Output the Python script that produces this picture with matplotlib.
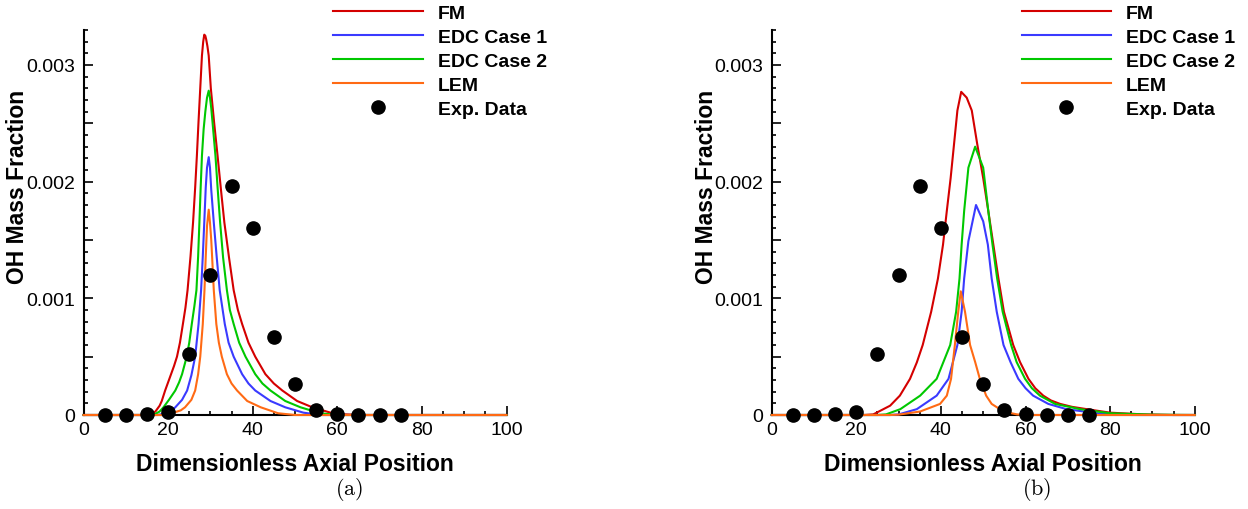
import numpy as np
import matplotlib
matplotlib.use("Agg")
import matplotlib.pyplot as plt
from matplotlib.ticker import MultipleLocator, FuncFormatter

plt.rcParams["font.family"] = ["Liberation Sans", "DejaVu Sans"]
plt.rcParams["mathtext.fontset"] = "cm"

# ---- Experimental OH mass fraction (units of 1e-3) ----
exp_x = [5, 10, 15, 20, 25, 30, 35, 40, 45, 50, 55, 60, 65, 70, 75]
exp_y = [0.0, 0.0, 0.012, 0.03, 0.52, 1.20, 1.96, 1.60, 0.67, 0.265, 0.045, 0.01, 0.0, 0.0, 0.0]

# ---- Panel (a): model profiles (x, OH in units of 1e-3) ----
a_fm_x = [0, 14, 15, 16, 17, 18, 18.5, 19.3, 20.0, 20.7, 21.4, 22.1, 22.8, 23.5, 24.1, 24.6, 25.3,
          25.9, 26.4, 26.8, 27.2, 27.6, 28.0, 28.3, 28.55, 28.8, 29.0, 29.3, 29.6, 30.1, 30.9, 31.7,
          32.5, 33.3, 34.4, 35.5, 36.5, 37.5, 39.0, 40.6, 43.0, 45.0, 47.0, 50.5, 54.1, 58.4, 62, 66, 100]
a_fm_y = [0, 0, 0.003, 0.01, 0.03, 0.08, 0.12, 0.21, 0.28, 0.35, 0.42, 0.50, 0.62, 0.78, 0.92, 1.07, 1.36,
          1.65, 1.95, 2.22, 2.52, 2.80, 3.08, 3.20, 3.26, 3.25, 3.22, 3.16, 3.08, 2.80, 2.50, 2.22,
          1.93, 1.65, 1.35, 1.07, 0.90, 0.78, 0.62, 0.50, 0.35, 0.27, 0.21, 0.12, 0.066, 0.02, 0.005, 0, 0]

a_edc1_x = [0, 17.5, 19, 20.5, 21.7, 23.3, 24.5, 25.5, 26.4, 27.2, 27.8, 28.2, 28.55, 28.9, 29.2,
            29.6, 29.9, 30.2, 30.8, 31.5, 32.2, 33.4, 34.3, 35.5, 37.5, 39.0, 40.6, 44.2, 47.7, 52, 56, 100]
a_edc1_y = [0, 0, 0.01, 0.03, 0.066, 0.13, 0.21, 0.34, 0.50, 0.78, 1.07, 1.36, 1.65, 1.95, 2.12,
            2.21, 2.12, 1.93, 1.65, 1.35, 1.07, 0.78, 0.62, 0.50, 0.35, 0.27, 0.21, 0.12, 0.066, 0.02, 0, 0]

a_edc2_x = [0, 16, 17, 18, 18.9, 20.2, 21.7, 22.6, 23.3, 24.4, 25.0, 25.6, 26.2, 26.7, 27.1, 27.4,
            27.7, 28.0, 28.4, 28.8, 29.2, 29.6, 29.9, 30.2, 30.5, 31.2, 31.7, 32.3, 33.0, 33.9, 34.6,
            35.5, 36.8, 38.3, 40.6, 42.3, 44.2, 47.7, 51.3, 56, 60, 100]
a_edc2_y = [0, 0, 0.01, 0.03, 0.066, 0.13, 0.21, 0.28, 0.35, 0.50, 0.62, 0.78, 0.93, 1.07, 1.36, 1.65,
            1.95, 2.22, 2.45, 2.60, 2.72, 2.78, 2.72, 2.63, 2.51, 2.22, 1.95, 1.65, 1.35, 1.07, 0.90,
            0.78, 0.62, 0.50, 0.35, 0.27, 0.21, 0.12, 0.066, 0.015, 0, 0]

a_lem_x = [0, 19, 21.3, 23.0, 24.0, 25.5, 26.4, 27.1, 27.6, 28.2, 28.6, 28.9, 29.2, 29.6, 29.9,
           30.2, 30.4, 30.8, 31.4, 32.0, 32.7, 33.9, 35.0, 36.3, 38.7, 41.9, 46, 50, 100]
a_lem_y = [0, 0, 0.02, 0.04, 0.066, 0.13, 0.21, 0.35, 0.50, 0.78, 1.07, 1.36, 1.62, 1.76, 1.65,
           1.50, 1.36, 1.07, 0.78, 0.62, 0.50, 0.35, 0.27, 0.21, 0.12, 0.066, 0.015, 0, 0]

# ---- Panel (b): model profiles (x, OH in units of 1e-3) ----
b_fm_x = [0, 22, 24, 26.4, 28.0, 30.3, 32.7, 34.3, 35.7, 37.7, 39.3, 40.5, 41.4, 42.3, 43.1, 43.9, 44.8,
          46.1, 47.3, 48.6, 50.0, 51.2, 52.4, 53.6, 54.9, 57.1, 58.7, 60.7, 62.3, 64.2, 66.0, 68.2, 71.0,
          74.5, 80, 88, 95, 100]
b_fm_y = [0, 0, 0.005, 0.05, 0.08, 0.166, 0.31, 0.45, 0.60, 0.885, 1.17, 1.46, 1.75, 2.03, 2.32, 2.61, 2.77,
          2.72, 2.61, 2.32, 2.03, 1.75, 1.46, 1.17, 0.885, 0.60, 0.454, 0.31, 0.23, 0.166, 0.125, 0.095, 0.07,
          0.05, 0.02, 0.005, 0, 0]

b_edc1_x = [0, 28, 30, 34.3, 39.0, 41.8, 43.9, 44.9, 45.5, 46.5, 48.3, 50.0, 51.1, 52.0, 53.2,
            54.8, 56.5, 58.3, 60.0, 61.8, 65.4, 69.7, 78, 85, 100]
b_edc1_y = [0, 0, 0.005, 0.05, 0.166, 0.31, 0.60, 0.885, 1.17, 1.49, 1.80, 1.66, 1.46, 1.17, 0.885,
            0.60, 0.45, 0.31, 0.23, 0.166, 0.095, 0.05, 0.01, 0, 0]

b_edc2_x = [0, 25, 27, 30.4, 35.1, 39.0, 42.2, 43.6, 44.4, 44.9, 45.5, 46.5, 48.1, 50.0, 51.2,
            52.2, 53.3, 54.6, 56.6, 57.9, 59.9, 61.5, 63.4, 67.0, 72.9, 80, 90, 100]
b_edc2_y = [0, 0, 0.005, 0.05, 0.166, 0.31, 0.60, 0.885, 1.17, 1.46, 1.75, 2.12, 2.30, 2.12, 1.75,
            1.46, 1.17, 0.885, 0.60, 0.454, 0.31, 0.23, 0.166, 0.095, 0.05, 0.015, 0.003, 0]

b_lem_x = [0, 28, 30, 35.1, 39.8, 41.4, 42.4, 43.3, 44.1, 44.7, 45.7, 46.9, 48.1, 49.2, 50.7,
           52.0, 54.8, 58, 60, 100]
b_lem_y = [0, 0, 0.003, 0.03, 0.095, 0.166, 0.31, 0.60, 0.885, 1.06, 0.885, 0.60, 0.454, 0.31, 0.166,
           0.095, 0.03, 0.005, 0, 0]

SCALE = 1e-3
colors = {"FM": "#d40000", "EDC Case 1": "#3a3aff", "EDC Case 2": "#00c800", "LEM": "#ff6a14"}

panels = [
    ("(a)", {"FM": (a_fm_x, a_fm_y), "EDC Case 1": (a_edc1_x, a_edc1_y),
             "EDC Case 2": (a_edc2_x, a_edc2_y), "LEM": (a_lem_x, a_lem_y)}, 83.5),
    ("(b)", {"FM": (b_fm_x, b_fm_y), "EDC Case 1": (b_edc1_x, b_edc1_y),
             "EDC Case 2": (b_edc2_x, b_edc2_y), "LEM": (b_lem_x, b_lem_y)}, 771.7),
]

W, H = 1248, 510
fig = plt.figure(figsize=(W / 100, H / 100), dpi=100)


def y_fmt(v, pos):
    k = round(v / 0.0005)
    if k % 2:
        return ""
    if k == 0:
        return "0"
    return f"{v:.3f}"


for tag, curves, left_px in panels:
    ax = fig.add_axes([left_px / W, 94 / H, 423 / W, 385 / H])
    for name in ["FM", "EDC Case 1", "EDC Case 2", "LEM"]:
        xs, ys = curves[name]
        ax.plot(xs, np.array(ys) * SCALE, color=colors[name], lw=1.5, label=name,
                solid_joinstyle="round", clip_on=False, zorder=3)
    ax.plot(exp_x, np.array(exp_y) * SCALE, "o", color="black", ms=9.5, clip_on=False,
            zorder=5, label="Exp. Data")

    ax.set_xlim(0, 100)
    ax.set_ylim(0, 0.0033)
    for s in ["top", "right"]:
        ax.spines[s].set_visible(False)
    for s in ["left", "bottom"]:
        ax.spines[s].set_linewidth(1.5)
        ax.spines[s].set_zorder(2)

    ax.xaxis.set_major_locator(MultipleLocator(20))
    ax.xaxis.set_minor_locator(MultipleLocator(5))
    ax.yaxis.set_major_locator(MultipleLocator(0.0005))
    ax.yaxis.set_minor_locator(MultipleLocator(0.0001))
    ax.yaxis.set_major_formatter(FuncFormatter(y_fmt))
    ax.tick_params(which="both", direction="in", top=False, right=False, width=1.2)
    ax.tick_params(which="major", length=6.5, labelsize=14)
    ax.tick_params(which="minor", length=3.2)
    ax.tick_params(axis="x", which="major", pad=4)
    ax.tick_params(axis="y", which="major", pad=6)

    ax.set_xlabel("Dimensionless Axial Position", fontsize=16.5, fontweight="bold", va="center")
    ax.xaxis.set_label_coords(0.5, -0.127)
    ax.set_ylabel("OH Mass Fraction", fontsize=16.5, fontweight="bold", va="center")
    ax.yaxis.set_label_coords(-0.155, 0.595)

    ax.text(0.627, -0.19, r"$\mathrm{" + tag + "}$", transform=ax.transAxes,
            ha="center", va="center", fontsize=16)

    ax.legend(loc="upper left", bbox_to_anchor=(0.591, 1.067), frameon=False,
              borderpad=0, borderaxespad=0, handlelength=4.6, handletextpad=0.77,
              labelspacing=0.33, numpoints=1,
              prop={"family": ["Liberation Sans", "DejaVu Sans"], "weight": "bold", "size": 14})

fig.savefig("out.png", dpi=100)
